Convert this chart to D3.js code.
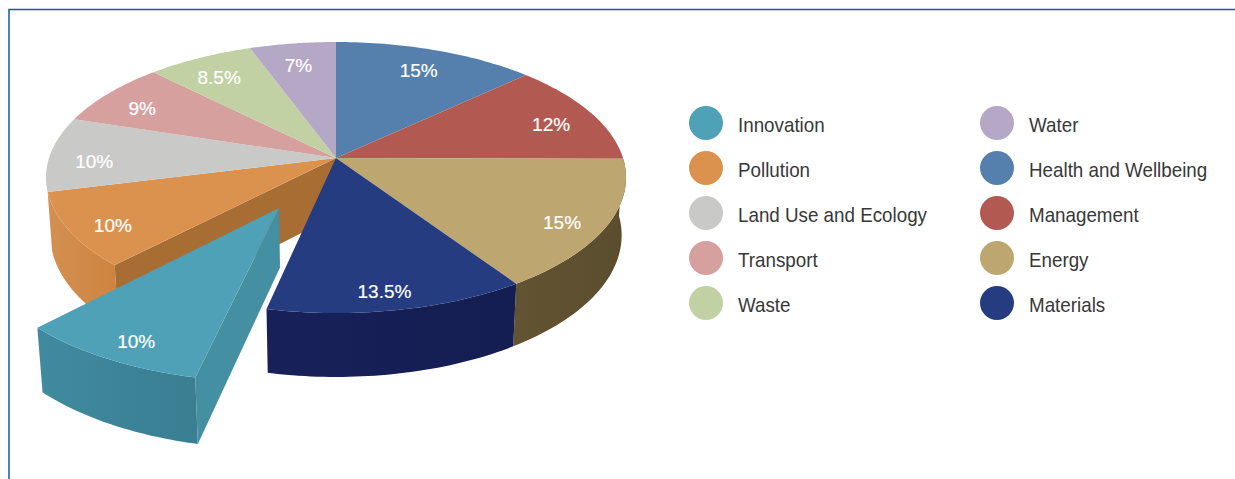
<!DOCTYPE html>
<html>
<head>
<meta charset="utf-8">
<style>
  html, body { margin: 0; padding: 0; background: #fff; }
  svg { display: block; }
  text { font-family: "Liberation Sans", Arial, sans-serif; }
</style>
<script src="https://cdn.jsdelivr.net/npm/d3@7/dist/d3.min.js"></script>
</head>
<body>
<svg id="chart" width="1235" height="479"></svg>
<script>
// Credit weightings by category, in legend order
const categories = ["Innovation", "Pollution", "Land Use and Ecology", "Transport", "Waste",
                    "Water", "Health and Wellbeing", "Management", "Energy", "Materials"];
const weights = [10, 10, 10, 9, 8.5, 7, 15, 12, 15, 13.5];
const topColours = ["#4ea1b7", "#db924e", "#c9c9c8", "#d6a09f", "#c1d1a4",
                    "#b4a8c6", "#5580ad", "#b25a52", "#bea671", "#253c80"];
const wallColours = ["#3d8498", "#d08a48", "#a9a9a8", "#b58786", "#a3b18a",
                     "#9a8fa9", "#47698e", "#8f4841", "#5e5030", "#161f55"];
const pieStartCategory = "Health and Wellbeing";
const explodedCategory = "Innovation";

const svg = d3.select("#chart");
const W = 1235, H = 479;

// Frame open at the right and bottom
svg.append("path")
  .attr("d", d3.line()([[9, H], [9, 9.5], [W, 9.5]]))
  .attr("fill", "none").attr("stroke", "#1259ae").attr("stroke-width", 1.5);

// Perspective view of a flat disc: plane coordinates (u, v) with v towards the viewer
const view = { cx: 336, cy: 158, rx: 287, ry: 132.7, k: 0.144, depth: 58, sink: 0.015 };
function project(u, v, z) {
  const w = 1 - view.k * v + view.sink * z;
  return [view.cx + view.rx * u / w, view.cy + (view.ry * v + view.depth * z) / w];
}
// Foreshortening of the tilted drawing, applied to pie angles
function skew(a) {
  const d = Math.PI / 180;
  return a + d * (5.2 * (1 - Math.cos(a)) - 3 * Math.sin(a) - 2 * Math.sin(2 * a));
}
const onDisc = (a, r) => [r * Math.sin(skew(a)), -r * Math.cos(skew(a))];

const colour = d3.scaleOrdinal(categories, topColours);
const wallColour = d3.scaleOrdinal(categories, wallColours);

// Layout, starting clockwise from twelve o'clock
const first = categories.indexOf(pieStartCategory);
const order = d3.range(categories.length).map(i => (i + first) % categories.length);
const rank = new Map(order.map((c, i) => [c, i]));
const arcs = d3.pie().sort((a, b) => rank.get(categories.indexOf(a.name)) - rank.get(categories.indexOf(b.name)))
  .value(d => d.value)(categories.map((name, i) => ({ name, value: weights[i] })));

const line = d3.line();
const explodedOffset = [-0.188, 0.3575];
const offsetOf = d => d.data.name === explodedCategory ? explodedOffset : [0, 0];
const angles = d => d3.range(0, 41).map(i => d.startAngle + (d.endAngle - d.startAngle) * i / 40);
const midAngle = d => (d.startAngle + d.endAngle) / 2;
const at = (d, a, r, z, drop = 0) => {
  const [u, v] = onDisc(a, r), [ou, ov] = offsetOf(d);
  return project(u + ou, v + ov + drop, z);
};
const topPath = d => line([at(d, 0, 0, 0), ...angles(d).map(a => at(d, a, 1, 0))]) + "Z";
const rimPath = d => {
  const as = angles(d);
  return line([...as.map(a => at(d, a, 1, 0)), ...as.slice().reverse().map(a => at(d, a, 1, 1))]) + "Z";
};
const cutPath = (d, a) => line([at(d, a, 0, 0), at(d, a, 1, 0), at(d, a, 1, 1), at(d, a, 0, 1)]) + "Z";

// Faint banding along the outer walls
const defs = svg.append("defs");
arcs.forEach((d, i) => {
  const c = d3.hsl(wallColour(d.data.name));
  const xs = angles(d).map(a => at(d, a, 1, 0)[0]);
  const g = defs.append("linearGradient").attr("id", "wall" + i)
    .attr("gradientUnits", "userSpaceOnUse")
    .attr("x1", d3.min(xs)).attr("x2", d3.max(xs)).attr("y1", 0).attr("y2", 0);
  g.append("stop").attr("offset", 0).attr("stop-color", c.brighter(0.12));
  g.append("stop").attr("offset", 1).attr("stop-color", c.darker(0.12));
});

const main = arcs.filter(d => d.data.name !== explodedCategory);
const gap = arcs.find(d => d.data.name === explodedCategory);
const after = arcs.find(d => d.startAngle === gap.endAngle);
// Slices behind the disc's widest point keep their rims out of sight
const facesViewer = d => onDisc(midAngle(d), 1)[1] > view.k;

// Main body: rims, the face exposed by the pulled-out slice, then tops
svg.append("g").selectAll("path").data(main.filter(facesViewer)).join("path")
  .attr("d", rimPath).attr("fill", d => `url(#wall${arcs.indexOf(d)})`);
svg.append("path").attr("d", cutPath(after, gap.endAngle)).attr("fill", "#a86d33");
svg.append("g").selectAll("path").data(main).join("path")
  .attr("d", topPath).attr("fill", d => colour(d.data.name));

// Pulled-out slice in front of everything else
const slice = svg.append("g");
slice.append("path").attr("d", rimPath(gap)).attr("fill", `url(#wall${arcs.indexOf(gap)})`);
slice.append("path").attr("d", cutPath(gap, gap.startAngle)).attr("fill", "#458fa3");
slice.append("path").attr("d", topPath(gap)).attr("fill", colour(gap.data.name));

// Percentage labels
const labelRadius = 0.84, labelDrop = 0.05;
svg.append("g").selectAll("text").data(arcs).join("text")
  .attr("transform", d => `translate(${at(d, midAngle(d), labelRadius, 0, labelDrop)})`)
  .attr("text-anchor", "middle").attr("dy", "0.35em")
  .attr("font-size", 19).attr("fill", "#fff")
  .attr("stroke", "#fff").attr("stroke-width", 0.2)
  .text(d => d.data.value + "%");

// Legend in two columns of five
const legendX = d3.scalePoint().domain([0, 1]).range([706, 997]);
const legendY = d3.scalePoint().domain(d3.range(5)).range([123, 303]);
const entry = svg.append("g").selectAll("g").data(categories).join("g")
  .attr("transform", (d, i) => `translate(${legendX(Math.floor(i / 5))},${legendY(i % 5)})`);
entry.append("circle").attr("r", 17).attr("fill", d => colour(d));
entry.append("text").attr("transform", "translate(32,2) scale(0.94,1)").attr("dy", "0.35em")
  .attr("font-size", 20).attr("fill", "#383838").text(d => d);
</script>
</body>
</html>
